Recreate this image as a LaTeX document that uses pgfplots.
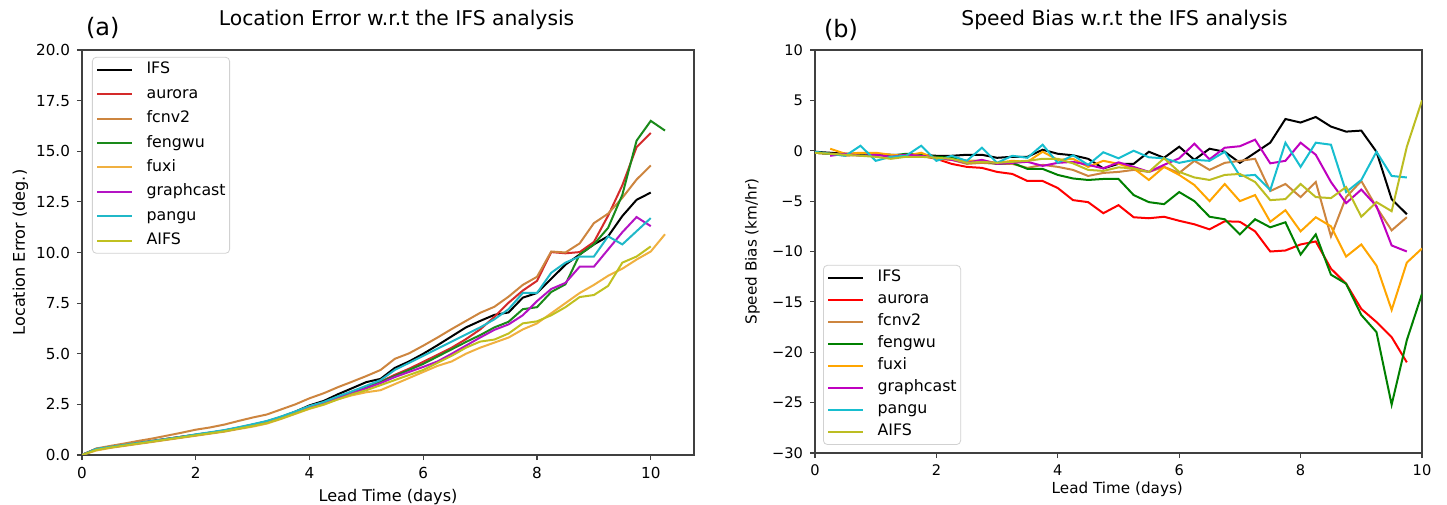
\documentclass[border=0pt]{standalone}
\usepackage{fontspec}
\setmainfont{DejaVu Sans}
\usepackage{pgfplots}
\usepackage{pgfplotstable}
\pgfplotsset{compat=1.18}

% colours, left panel
\definecolor{lIFS}{HTML}{000000}
\definecolor{laur}{HTML}{D42A2A}
\definecolor{lfcn}{HTML}{CD853F}
\definecolor{lfen}{HTML}{1A8A1A}
\definecolor{lfux}{HTML}{F0B040}
\definecolor{lgra}{HTML}{B414C4}
\definecolor{lpan}{HTML}{20B8C8}
\definecolor{laif}{HTML}{C0C020}
% colours, right panel
\definecolor{raur}{HTML}{FF0000}
\definecolor{rfcn}{HTML}{CD853F}
\definecolor{rfen}{HTML}{008000}
\definecolor{rfux}{HTML}{FFA500}
\definecolor{rgra}{HTML}{BF00BF}
\definecolor{rpan}{HTML}{17BECF}
\definecolor{raif}{HTML}{BCBD22}

% location error (deg.)
\pgfplotstableread{
t     IFS   aurora fcnv2 fengwu fuxi  graphcast pangu AIFS
0     0.00  0.00  0.00  0.00  0.00  0.00  0.00  0.00
0.25  0.30  0.30  0.32  0.28  0.22  0.28  0.30  0.25
0.5   0.40  0.40  0.45  0.38  0.35  0.38  0.40  0.37
0.75  0.50  0.50  0.57  0.48  0.45  0.48  0.50  0.47
1     0.60  0.60  0.70  0.58  0.55  0.58  0.60  0.57
1.25  0.70  0.70  0.82  0.68  0.65  0.68  0.70  0.67
1.5   0.80  0.80  0.96  0.78  0.75  0.78  0.80  0.77
1.75  0.90  0.90  1.10  0.88  0.85  0.88  0.90  0.87
2     1.00  1.00  1.25  0.98  0.95  0.98  1.02  0.97
2.25  1.10  1.10  1.36  1.08  1.05  1.08  1.12  1.07
2.5   1.21  1.20  1.50  1.19  1.15  1.18  1.23  1.17
2.75  1.35  1.33  1.68  1.32  1.28  1.31  1.37  1.30
3     1.50  1.47  1.85  1.46  1.40  1.45  1.52  1.43
3.25  1.66  1.62  2.00  1.62  1.55  1.60  1.68  1.58
3.5   1.88  1.84  2.25  1.84  1.78  1.82  1.90  1.80
3.75  2.14  2.10  2.50  2.09  2.03  2.07  2.15  2.05
4     2.45  2.38  2.80  2.36  2.28  2.34  2.42  2.30
4.25  2.67  2.60  3.05  2.56  2.48  2.55  2.62  2.50
4.5   3.00  2.86  3.35  2.82  2.75  2.80  2.90  2.75
4.75  3.30  3.10  3.62  3.06  2.95  3.05  3.15  3.00
5     3.60  3.36  3.90  3.32  3.10  3.30  3.42  3.20
5.25  3.76  3.62  4.20  3.60  3.20  3.55  3.70  3.45
5.5   4.30  3.96  4.75  3.90  3.50  3.85  4.20  3.70
5.75  4.62  4.26  5.02  4.20  3.80  4.10  4.55  3.95
6     5.00  4.60  5.40  4.50  4.10  4.35  4.90  4.20
6.25  5.42  4.95  5.80  4.86  4.40  4.62  5.25  4.55
6.5   5.86  5.30  6.22  5.22  4.62  5.00  5.60  4.90
6.75  6.30  5.72  6.62  5.58  5.00  5.40  5.95  5.30
7     6.62  6.20  7.02  5.92  5.30  5.80  6.30  5.60
7.25  6.92  6.82  7.32  6.30  5.55  6.18  6.70  5.70
7.5   7.04  7.52  7.82  6.58  5.80  6.45  7.20  6.00
7.75  7.77  8.12  8.40  7.20  6.20  6.90  8.00  6.50
8     8.00  8.60  8.80  7.30  6.50  7.60  8.00  6.60
8.25  8.70  10.02 10.05 8.05  7.00  8.20  9.00  6.90
8.5   9.40  9.96  10.00 8.43  7.50  8.50  9.50  7.30
8.75  9.90  10.02 10.45 9.90  8.00  9.30  9.80  7.80
9     10.40 10.52 11.45 10.40 8.40  9.30  9.80  7.90
9.25  10.80 11.82 11.92 11.22 8.85  10.15 10.80 8.35
9.5   11.80 13.32 12.70 12.85 9.20  11.00 10.40 9.50
9.75  12.60 15.20 13.60 15.52 9.65  11.75 11.05 9.80
10    12.96 15.90 14.30 16.50 10.05 11.30 11.70 10.30
10.25 nan   nan   nan   16.02 10.90 nan   nan   nan
}\locerr

% speed bias (km/hr)
\pgfplotstableread{
t     IFS   aurora fcnv2 fengwu fuxi  graphcast pangu AIFS
0     -0.1  -0.2  -0.2  -0.2  nan   nan   -0.1  -0.2
0.25  -0.2  -0.3  -0.3  -0.3  0.2   -0.5  -0.3  -0.3
0.5   -0.3  -0.3  -0.5  -0.4  -0.3  -0.3  -0.5  -0.4
0.75  -0.3  -0.4  -0.4  -0.4  -0.2  -0.5  0.5   -0.5
1     -0.3  -0.3  -0.3  -0.4  -0.2  -0.4  -1.0  -0.6
1.25  -0.4  -0.5  -0.6  -0.5  -0.4  -0.6  -0.6  -0.8
1.5   -0.4  -0.5  -0.5  -0.3  -0.5  -0.4  -0.5  -0.6
1.75  -0.4  -0.5  -0.5  -0.4  -0.2  -0.5  0.5   -0.6
2     -0.5  -0.8  -0.7  -0.6  -0.8  -0.7  -1.0  -0.7
2.25  -0.5  -1.3  -0.9  -0.7  -0.9  -0.9  -0.5  -0.8
2.5   -0.4  -1.6  -1.3  -1.0  -1.0  -1.2  -1.0  -1.2
2.75  -0.4  -1.7  -1.2  -1.0  -1.0  -0.9  0.3   -1.1
3     -0.7  -2.1  -1.3  -1.3  -1.2  -1.3  -1.2  -1.2
3.25  -0.6  -2.3  -1.3  -1.2  -1.0  -1.2  -0.5  -1.1
3.5   -0.6  -3.0  -1.7  -1.8  -1.1  -1.1  -0.7  -1.0
3.75  0.1   -3.0  -1.4  -1.8  -0.1  -1.5  0.6   -0.8
4     -0.3  -3.7  -1.6  -2.4  -0.9  -1.2  -1.2  -0.8
4.25  -0.45 -4.9  -1.9  -2.75 -0.8  -1.1  -0.45 -1.25
4.5   -0.8  -5.1  -2.5  -2.9  -1.6  -1.4  -1.4  -1.9
4.75  -1.75 -6.2  -2.2  -2.8  -1.0  -1.75 -0.15 -2.0
5     -1.3  -5.4  -2.1  -2.8  -1.3  -1.15 -0.75 -1.65
5.25  -1.3  -6.6  -1.9  -4.4  -1.75 -1.6  0.0   -1.75
5.5   -0.1  -6.7  -2.1  -5.1  -2.9  -2.1  -0.65 -2.1
5.75  -0.7  -6.55 -1.6  -5.3  -1.6  -1.4  -0.75 -0.75
6     0.4   -6.95 -2.2  -4.1  -2.4  -0.75 -1.2  -2.1
6.25  -0.9  -7.3  -1.0  -5.0  -3.4  0.7   -0.9  -2.65
6.5   0.2   -7.8  -1.9  -6.55 -5.0  -0.85 -1.0  -2.9
6.75  -0.1  -7.0  -1.2  -6.8  -3.3  0.3   -0.1  -2.4
7     -1.2  -7.05 -1.0  -8.3  -5.0  0.45  -2.5  -2.3
7.25  -0.2  -8.0  -0.8  -6.8  -4.4  1.1   -2.4  -3.1
7.5   0.8   -10.0 -4.0  -7.6  -7.05 -1.25 -3.9  -4.9
7.75  3.15  -9.9  -3.3  -7.1  -5.9  -1.0  0.8   -4.8
8     2.8   -9.3  -4.6  -10.3 -8.0  0.8   -1.6  -3.3
8.25  3.35  -9.0  -3.1  -8.3  -6.6  -0.4  0.8   -4.6
8.5   2.4   -11.7 -8.5  -12.3 -7.5  -3.1  0.6   -4.7
8.75  1.9   -13.2 -4.6  -13.2 -10.5 -5.2  -4.1  -3.6
9     2.0   -15.7 -3.0  -16.3 -9.3  -3.85 -2.9  -6.55
9.25  -0.1  -17.0 -5.6  -18.0 -11.4 -5.5  -0.1  -5.1
9.5   -4.8  -18.5 -7.9  -25.2 -15.8 -9.4  -2.5  -6.0
9.75  -6.3  -21.0 -6.6  -18.8 -11.1 -10.0 -2.65 0.4
10    nan   nan   nan   -14.2 -9.7  nan   nan   5.0
}\spdbias

\pgfplotsset{
  panel/.style={
    anchor=south west, scale only axis,
    axis line style={black!75, line width=0.65pt},
    tick style={black!75, line width=0.6pt},
    major tick length=2.5pt,
    tick align=outside, tick pos=left,
    xmin=0, xtick={0,2,...,10}, xticklabels={0,2,4,6,8,10},
    every axis plot/.append style={line width=1pt, mark=none},
    title style={anchor=center, font=\fontsize{10.15}{12}\selectfont},
    xlabel style={anchor=center},
    ylabel style={anchor=center},
    legend cell align=left,
    legend image code/.code={\draw[##1] (0pt,0pt) -- (17.4pt,0pt);},
  },
}

\begin{document}
\begin{tikzpicture}
\useasboundingbox (0,0) rectangle (723.5pt,252pt);

\begin{axis}[panel,
  at={(41pt,24.5pt)}, width=306pt, height=202.5pt,
  xmax=10.76, ymin=0, ymax=20,
  ytick={0,2.5,...,20},
  yticklabels={0.0,2.5,5.0,7.5,10.0,12.5,15.0,17.5,20.0},
  ticklabel style={font=\fontsize{7.6}{9}\selectfont},
  title={Location Error w.r.t the IFS analysis},
  title style={at={(axis description cs:0.514,1.044)}},
  xlabel={Lead Time (days)}, ylabel={Location Error (deg.)},
  label style={font=\fontsize{8.05}{10}\selectfont},
  xlabel style={at={(axis description cs:0.5,-0.104)}},
  ylabel style={at={(axis description cs:-0.1005,0.5)}},
  legend style={at={(axis description cs:0.0163,0.983)}, anchor=north west,
    draw=black!18, rounded corners=2pt, inner xsep=2pt, inner ysep=2.5pt,
    font=\fontsize{7.9}{9}\selectfont, row sep=4.6pt,
    nodes={inner sep=0pt, text height=5.8pt, text depth=1.8pt},
    /tikz/every odd column/.append style={column sep=6.7pt}},
  extra description/.code={\node[font=\fontsize{12}{14}\selectfont] at (0.034,1.054) {(a)};},
]
\addplot[lIFS] table[x=t, y=IFS] {\locerr};
\addplot[laur] table[x=t, y=aurora] {\locerr};
\addplot[lfcn] table[x=t, y=fcnv2] {\locerr};
\addplot[lfen] table[x=t, y=fengwu] {\locerr};
\addplot[lfux] table[x=t, y=fuxi] {\locerr};
\addplot[lgra] table[x=t, y=graphcast] {\locerr};
\addplot[lpan] table[x=t, y=pangu] {\locerr};
\addplot[laif] table[x=t, y=AIFS] {\locerr};
\legend{IFS,aurora,fcnv2,fengwu,fuxi,graphcast,pangu,AIFS}
\end{axis}

\begin{axis}[panel,
  at={(407.5pt,25.5pt)}, width=303.5pt, height=201.5pt,
  xmax=10, ymin=-30, ymax=10,
  ytick={-30,-25,...,10},
  yticklabels={−30,−25,−20,−15,−10,−5,0,5,10},
  ticklabel style={font=\fontsize{7.3}{9}\selectfont},
  title={Speed Bias w.r.t the IFS analysis},
  title style={at={(axis description cs:0.51,1.045)}},
  xlabel={Lead Time (days)}, ylabel={Speed Bias (km/hr)},
  label style={font=\fontsize{7.6}{10}\selectfont},
  xlabel style={at={(axis description cs:0.498,-0.089)}},
  ylabel style={at={(axis description cs:-0.103,0.5)}},
  legend style={at={(axis description cs:0.0132,0.02)}, anchor=south west,
    draw=black!18, rounded corners=2pt, inner xsep=2pt, inner ysep=2.5pt,
    font=\fontsize{7.9}{9}\selectfont, row sep=3.4pt,
    nodes={inner sep=0pt, text height=5.8pt, text depth=1.8pt},
    /tikz/every odd column/.append style={column sep=6.7pt}},
  extra description/.code={\node[font=\fontsize{12}{14}\selectfont] at (0.043,1.05) {(b)};},
]
\addplot[black] table[x=t, y=IFS] {\spdbias};
\addplot[raur] table[x=t, y=aurora] {\spdbias};
\addplot[rfcn] table[x=t, y=fcnv2] {\spdbias};
\addplot[rfen] table[x=t, y=fengwu] {\spdbias};
\addplot[rfux] table[x=t, y=fuxi] {\spdbias};
\addplot[rgra] table[x=t, y=graphcast] {\spdbias};
\addplot[rpan] table[x=t, y=pangu] {\spdbias};
\addplot[raif] table[x=t, y=AIFS] {\spdbias};
\legend{IFS,aurora,fcnv2,fengwu,fuxi,graphcast,pangu,AIFS}
\end{axis}
\end{tikzpicture}
\end{document}
